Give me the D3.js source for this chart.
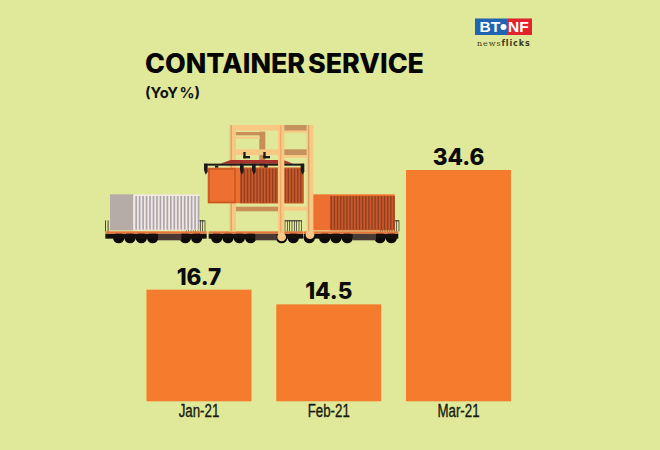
<!DOCTYPE html>
<html><head><meta charset="utf-8">
<script src="https://d3js.org/d3.v7.min.js"></script>
<style>html,body{margin:0;padding:0;background:#e0e99a}svg{display:block}</style>
</head><body><svg id="c" width="660" height="450"></svg>
<script>
const categories = ["Jan-21","Feb-21","Mar-21"];
const values = [16.7,14.5,34.6];
const valueLabels = ["16.7","14.5","34.6"];
const title = "CONTAINER SERVICE";
const subtitle = "(YoY %)";

const svg = d3.select("#c");
svg.append("rect").attr("width",660).attr("height",450).attr("fill","#e0e99a");

// scales
const x = d3.scaleBand().domain(categories).range([146.5,511]).paddingInner(0.1908).paddingOuter(0);
const y = d3.scaleLinear().domain([0,34.6]).range([401.3,170]);

// illustration (drawn in a 3x local space)
const ill = svg.append("g").attr("transform","translate(100,90) scale(0.3333)");
const R=(a,b,c,d,f,op)=>ill.append("rect").attr("x",a).attr("y",b).attr("width",c-a).attr("height",d-b).attr("fill",f).attr("opacity",op==null?1:op);
const stripes=(a,b,top,bot,step,w,f)=>{for(const v of d3.range(a,b,step))R(v,top,v+w,bot,f)};
const wheel=(cx,f)=>ill.append("circle").attr("cx",cx).attr("cy",443).attr("r",17).attr("fill",f||"#0d0a0a");

// wagons
for(const cx of [56,90,124,158,256,290,350,384,418,452,545,580,628,674,708,742,840,874]) wheel(cx);
for(const [a,b] of [[16,320],[326,610],[612,895]]){
  R(a,431,b,446,"#15100e");
  R(a,424,b,431,"#e8743c");
}
R(174,432,244,451,"#4a3a36");R(466,432,530,451,"#4a3a36");R(758,432,828,451,"#4a3a36");

// crane back parts
R(478,125,496,340,"#c98d55");
R(388,105,640,122,"#f8c884");
R(552,105,625,122,"#c4925c");R(552,178,625,195,"#c4925c");
R(396,126,494,136,"#c98d55");R(396,178,535,195,"#f8c884");
R(552,122,625,128,"#f8c884");R(552,195,625,203,"#f8c884");
R(396,140,480,146,"#f8c884");
R(408,350,535,364,"#c98d55");R(552,350,625,362,"#f8c884");
R(388,105,408,425,"#f8c884");
R(392,105,396,425,"#d9a468");
R(620,105,640,430,"#f8c884");R(624,105,628,430,"#d9a468");

// railings
const rail=(a,b)=>{R(a,391,b,394,"#2b2320");stripes(a,b+2,391,424,7,2,"#2b2320")};
rail(258,314);rail(554,605);rail(840,897);stripes(15,26,391,424,8,2.5,"#2b2320");

// left container
R(30,313,100,421,"#b5aca8");
R(100,313,298,421,"#f3e8e2");
stripes(106,296,318,419,10.4,5,"#a9a6ac");

// right container
R(640,313,884,421,"#ee7030");
R(690,318,884,421,"#c9592a");
stripes(692,882,318,419,9.4,4,"#8f3f20");

// hanging container
R(323,233,612,340,"#ee7030");
R(420,233,610,340,"#c9592a");
stripes(422,608,236,338,9.4,4,"#8f3f20");
ill.append("rect").attr("x",327).attr("y",237).attr("width",78).attr("height",100).attr("fill","none").attr("stroke","#c85a20").attr("stroke-width",5);

// spreader
ill.append("path").attr("d",d3.line()([[360,221],[392,210],[550,210],[580,221]])+"Z").attr("fill","#a8332c");
R(312,221,612,227,"#1d1a1c");
for(const v of [312,420,456,602]) ill.append("path").attr("d",d3.line()([[v,221],[v+11,221],[v+11,245],[v+5,254],[v,240]])+"Z").attr("fill","#1d1a1c");
R(345,227,355,233,"#1d1a1c");R(493,222,503,233,"#1d1a1c");
R(430,186,437,205,"#1d1a1c");R(430,198,450,205,"#1d1a1c");R(490,186,497,205,"#1d1a1c");R(490,198,510,205,"#1d1a1c");

// front column
R(534,105,553,440,"#f8c884");
R(540,105,544,440,"#eeaa68");
ill.append("circle").attr("cx",545).attr("cy",441).attr("r",13).attr("fill","#f8c884");
ill.append("circle").attr("cx",630).attr("cy",434).attr("r",13).attr("fill","#f8c884");

// bars
svg.selectAll("rect.bar").data(categories).join("rect").attr("class","bar")
  .attr("x",d=>x(d)).attr("width",x.bandwidth())
  .attr("y",(d,i)=>y(values[i])).attr("height",(d,i)=>y(0)-y(values[i]))
  .attr("fill","#f67c2d");

// value labels
svg.selectAll("text.val").data(valueLabels).join("text").attr("class","val")
  .attr("x",(d,i)=>x(categories[i])+x.bandwidth()/2).attr("y",(d,i)=>y(values[i])-5)
  .attr("text-anchor","middle").attr("font-family","Inter")
  .attr("font-weight",800).attr("font-size",22.5).attr("fill","#0c0c0c").text(d=>d);

// axis
const ax = svg.append("g").attr("transform",`translate(0,${y(0)})`).call(d3.axisBottom(x).tickSize(0).tickPadding(0));
ax.select(".domain").remove();
ax.selectAll("text").attr("y",16.2).attr("dy",0).attr("font-family","Liberation Sans").attr("font-size",17.5).attr("fill","#161a10")
  .attr("stroke","#161a10").attr("stroke-width",0.35)
  .each(function(){d3.select(this).attr("lengthAdjust","spacingAndGlyphs").attr("textLength",this.getComputedTextLength()*0.76)});

// title
svg.append("text").attr("x",145).attr("y",73.3).attr("font-family","Inter").attr("font-weight",800)
  .attr("font-size",26.5).attr("word-spacing",-3).attr("fill","#050505").attr("textLength",279).attr("lengthAdjust","spacingAndGlyphs").text(title);
svg.append("text").attr("x",145).attr("y",98).attr("font-family","Inter").attr("font-weight",700)
  .attr("font-size",14.5).attr("word-spacing",-2).attr("fill","#111").attr("textLength",55).attr("lengthAdjust","spacingAndGlyphs").text(subtitle);

// logo
svg.append("rect").attr("x",475).attr("y",18.5).attr("width",32).attr("height",16.5).attr("fill","#1f64b0");
svg.append("rect").attr("x",507).attr("y",18.5).attr("width",25).attr("height",16.5).attr("fill","#e0232e");
svg.append("text").attr("x",479.5).attr("y",32).attr("font-family","Liberation Sans").attr("font-weight",700).attr("font-size",15.5).attr("fill","#fff").text("BT");
svg.append("circle").attr("cx",503.5).attr("cy",27).attr("r",3).attr("fill","#fff");
svg.append("text").attr("x",508).attr("y",32).attr("font-family","Liberation Sans").attr("font-weight",700).attr("font-size",15.5).attr("fill","#fff").text("NF");
const nf = svg.append("text").attr("x",477).attr("y",46).attr("font-size",8).attr("fill","#3a3a1c").attr("letter-spacing",0.9);
nf.append("tspan").attr("font-family","DejaVu Serif").text("news");
nf.append("tspan").attr("font-family","DejaVu Sans").attr("font-weight",700).text("flicks");
</script></body></html>
